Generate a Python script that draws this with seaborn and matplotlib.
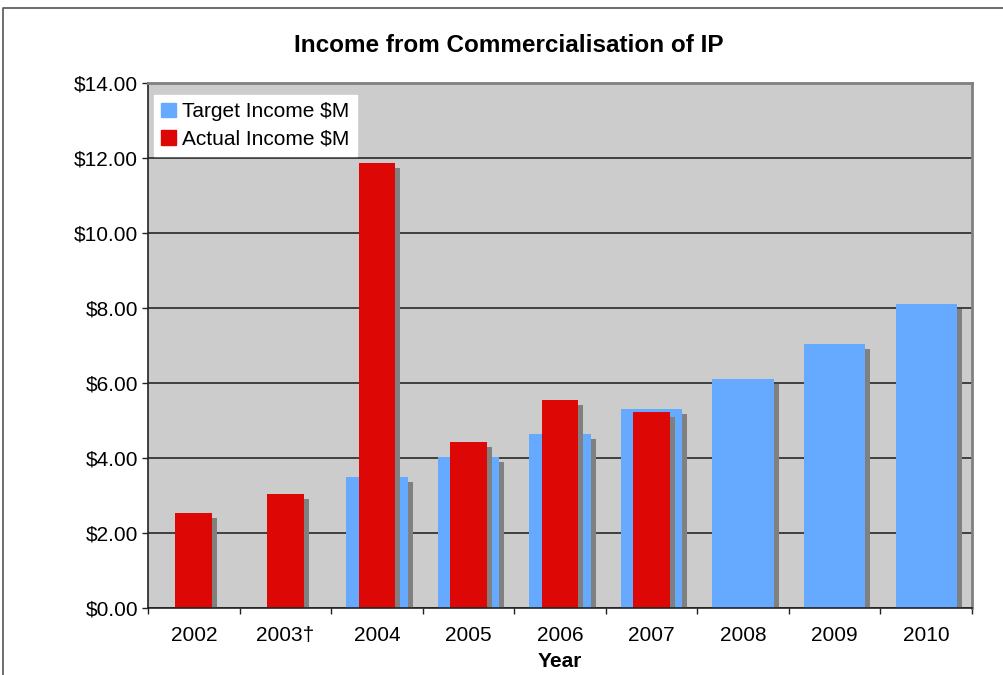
import matplotlib
matplotlib.use("Agg")
import matplotlib.pyplot as plt
import matplotlib.patheffects as pe
from matplotlib.ticker import FuncFormatter, FixedLocator
import numpy as np
import pandas as pd
import seaborn as sns

# Income data ($M)
years = ["2002", "2003\u2020", "2004", "2005", "2006", "2007", "2008", "2009", "2010"]
target_years = ["2004", "2005", "2006", "2007", "2008", "2009", "2010"]
target_income = [3.50, 4.02, 4.63, 5.32, 6.12, 7.05, 8.12]
actual_years = ["2002", "2003\u2020", "2004", "2005", "2006", "2007"]
actual_income = [2.53, 3.03, 11.87, 4.42, 5.54, 5.24]

yticks = [0, 2, 4, 6, 8, 10, 12, 14]

BLUE = "#66AAFF"
RED = "#DD0805"
SHADOW = "#808080"
PLOT_BG = "#CCCCCC"

sns.set_style("white")
plt.rcParams["font.family"] = ["Liberation Sans", "DejaVu Sans"]

target_df = pd.DataFrame({"Year": target_years, "Income": target_income})
actual_df = pd.DataFrame({"Year": actual_years, "Income": actual_income})

fig = plt.figure(figsize=(10.04, 6.75), dpi=100)
ax = fig.add_axes([148 / 1004, 1 - 608 / 675, (972 - 148) / 1004, (608 - 83) / 675])
ax.set_facecolor(PLOT_BG)

sns.barplot(data=target_df, x="Year", y="Income", order=years, color=BLUE,
            saturation=1, width=0.67, errorbar=None, ax=ax, linewidth=0)
sns.barplot(data=actual_df, x="Year", y="Income", order=years, color=RED,
            saturation=1, width=0.40, errorbar=None, ax=ax, linewidth=0)

# drop shadow offset right and down on every bar
shadow = [pe.SimplePatchShadow(offset=(3.6, -3.6), shadow_rgbFace=SHADOW, alpha=1.0),
          pe.Normal()]
for p in ax.patches:
    p.set_path_effects(shadow)

ax.set_xlim(-0.5, len(years) - 0.5)
ax.set_ylim(0, 14)
ax.set_yticks(yticks)
ax.yaxis.set_major_formatter(FuncFormatter(lambda v, _: f"${v:.2f}"))
ax.set_axisbelow(True)
ax.yaxis.grid(True, color="#1a1a1a", linewidth=1.1)
ax.xaxis.grid(False)

ax.tick_params(axis="y", which="major", direction="out", length=4, width=1,
               color="#222222", labelsize=15, pad=3, left=True, labelcolor="black")
ax.tick_params(axis="x", which="major", length=0, labelsize=15, pad=13,
               labelcolor="black")
ax.xaxis.set_minor_locator(FixedLocator(np.arange(-0.5, len(years), 1.0)))
ax.tick_params(axis="x", which="minor", direction="out", length=4, width=1,
               color="#222222", bottom=True)

ax.set_xlabel("Year", fontsize=15, fontweight="bold", labelpad=5, color="black")
ax.set_ylabel("")

for side in ("top", "right"):
    ax.spines[side].set_color(SHADOW)
    ax.spines[side].set_linewidth(2)
for side in ("left", "bottom"):
    ax.spines[side].set_color("#222222")
    ax.spines[side].set_linewidth(1.2)

handles = [plt.Rectangle((0, 0), 1, 1, color=BLUE), plt.Rectangle((0, 0), 1, 1, color=RED)]
leg = ax.legend(handles, ["Target Income $M", "Actual Income $M"],
                loc="upper left", bbox_to_anchor=(6 / 824, 1 - 12 / 525),
                fontsize=15, frameon=True, fancybox=False, framealpha=1,
                edgecolor="white", facecolor="white", handlelength=0.7,
                handleheight=0.7, handletextpad=0.3, borderpad=0.35,
                labelspacing=0.4, borderaxespad=0)
for t in leg.get_texts():
    t.set_color("black")

fig.text(509 / 1004, 1 - 45 / 675, "Income from Commercialisation of IP",
         ha="center", va="center", fontsize=17.5, fontweight="bold", color="black")

# chart area border
fig.add_artist(plt.Line2D([3 / 1004, 3 / 1004, 1.0], [0.0, 1 - 8 / 675, 1 - 8 / 675],
                          transform=fig.transFigure, color="#555555", linewidth=1.2))

fig.savefig("out.png", dpi=100, facecolor="white")
